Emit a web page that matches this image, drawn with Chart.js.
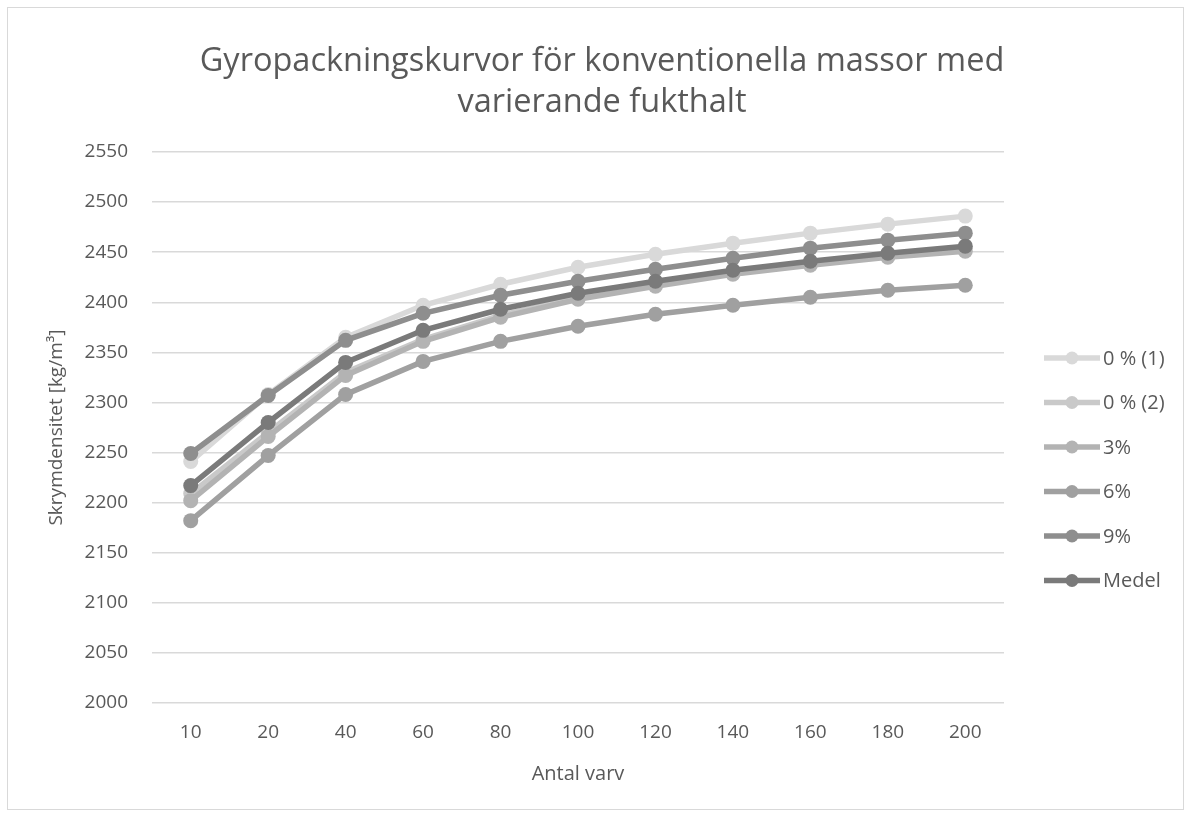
<!DOCTYPE html>
<html><head><meta charset="utf-8">
<script src="https://cdn.jsdelivr.net/npm/chart.js@4.4.0/dist/chart.umd.min.js"></script>
<style>
html,body{margin:0;padding:0;background:#fff}
#wrap{position:relative;width:1192px;height:817px}
#frame{position:absolute;left:7px;top:7px;width:1177px;height:803px;border:1px solid #d9d9d9;box-sizing:border-box;pointer-events:none}
canvas{position:absolute;left:0;top:0}
</style></head>
<body><div id="wrap"><canvas id="c" width="1192" height="817"></canvas><div id="frame"></div></div>
<script>
const categories = ['10','20','40','60','80','100','120','140','160','180','200'];
const s0a  = [2241, 2308, 2365, 2397, 2418, 2435, 2448, 2459, 2469, 2478, 2486];
const s0b  = [2209, 2270, 2330, 2363, 2387, 2405, 2418, 2430, 2439, 2447, 2454];
const s3   = [2202, 2266, 2327, 2361, 2385, 2403, 2416, 2428, 2437, 2445, 2451];
const s6   = [2182, 2247, 2308, 2341, 2361, 2376, 2388, 2397, 2405, 2412, 2417];
const s9   = [2249, 2307, 2362, 2389, 2407, 2421, 2433, 2444, 2454, 2462, 2469];
const medel= [2217, 2280, 2340, 2372, 2393, 2409, 2421, 2432, 2441, 2449, 2456];
const seriesNames = ['0 % (1)','0 % (2)','3%','6%','9%','Medel'];
const seriesData = [s0a, s0b, s3, s6, s9, medel];
const seriesColors = ['#d9d9d9','#c9c9c9','#b3b3b3','#a0a0a0','#8e8e8e','#7a7a7a'];
const titleLines = ['Gyropackningskurvor för konventionella massor med','varierande fukthalt'];
const yTitle = 'Skrymdensitet [kg/m³]';
const xTitle = 'Antal varv';

const FONT = "'Open Sans', sans-serif";
const TXT = '#595959';

const datasets = seriesNames.map((n,i)=>({
  label:n, data:seriesData[i],
  borderColor:seriesColors[i], backgroundColor:seriesColors[i],
  pointBackgroundColor:seriesColors[i], pointBorderWidth:0,
  pointRadius:7.5, borderWidth:5.5, tension:0,
  order: seriesNames.length - 1 - i
}));

const deco = {
  id:'deco',
  afterDraw(chart){
    const ctx = chart.ctx;
    ctx.save();
    ctx.fillStyle = TXT;
    ctx.textAlign = 'center';
    ctx.textBaseline = 'middle';
    ctx.font = `32.5px ${FONT}`;
    ctx.fillText(titleLines[0], 602, 62);
    ctx.fillText(titleLines[1], 602, 103);
    ctx.font = `20px ${FONT}`;
    ctx.textAlign = 'left';
    chart.data.datasets.forEach((ds,i)=>{
      const y = 358 + i*44.5;
      ctx.strokeStyle = ds.borderColor;
      ctx.lineWidth = 5.5;
      ctx.beginPath(); ctx.moveTo(1044,y); ctx.lineTo(1100,y); ctx.stroke();
      ctx.fillStyle = ds.borderColor;
      ctx.beginPath(); ctx.arc(1072,y,6.5,0,Math.PI*2); ctx.fill();
      ctx.fillStyle = TXT;
      ctx.fillText(ds.label, 1103, y+1);
    });
    ctx.restore();
  }
};

new Chart(document.getElementById('c'), {
  type:'line',
  data:{labels:categories, datasets},
  options:{
    responsive:false, animation:false,
    layout:{padding:{top:152,left:7,right:188,bottom:7}},
    plugins:{legend:{display:false},title:{display:false},tooltip:{enabled:false}},
    scales:{
      x:{
        offset:true,
        grid:{display:false,drawTicks:false},
        border:{display:false},
        ticks:{color:TXT,font:{family:FONT,size:19},padding:18,maxRotation:0,autoSkip:false},
        title:{display:true,text:xTitle,color:TXT,font:{family:FONT,size:20},padding:{top:24,bottom:24}},
        afterFit(s){ s.height = 817-703-7; }
      },
      y:{
        min:2000,max:2550,
        ticks:{stepSize:50,color:TXT,font:{family:FONT,size:19},padding:24,callback:(v)=>String(v)},
        grid:{color:'#d9d9d9',lineWidth:1.5,drawTicks:false},
        border:{display:false},
        title:{display:true,text:yTitle,color:TXT,font:{family:FONT,size:19},padding:{top:38,bottom:0}},
        afterFit(s){ s.width = 152-7; }
      }
    }
  },
  plugins:[deco]
});
</script>
</body></html>
